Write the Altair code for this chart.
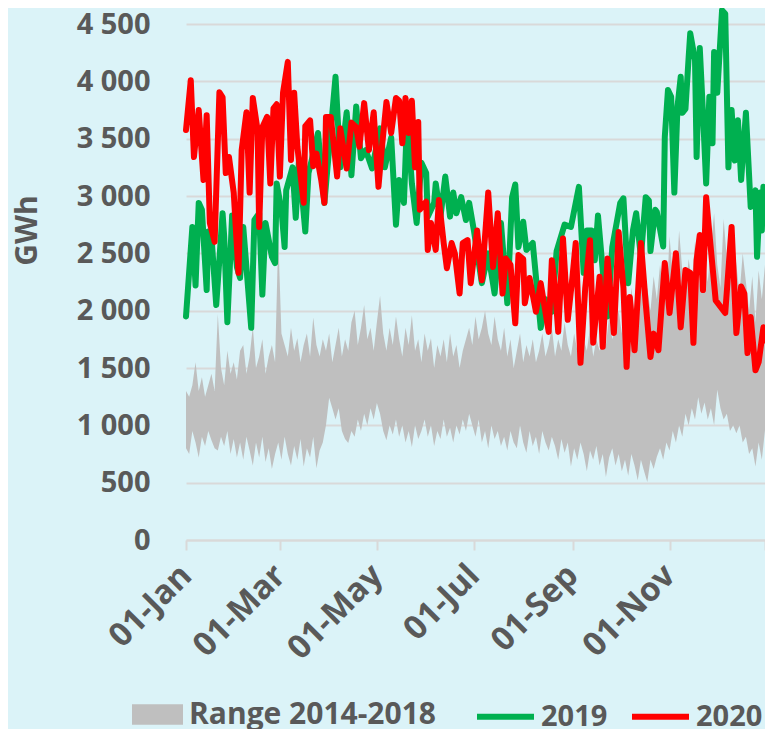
import altair as alt
import pandas as pd

# ---------------- data ----------------
# 2019 daily series (day of year, GWh)
g19_day = [0, 4, 6, 8, 10, 13, 14, 16, 19, 23, 24, 26, 29, 32, 34, 36, 41, 43, 46, 48,
           50, 54, 56, 57, 60, 62, 63, 67, 69, 71, 75, 77, 79, 83, 87, 94, 97, 101, 104, 107,
           110, 113, 117, 122, 125, 129, 132, 134, 137, 139, 142, 145, 148, 151, 152, 156, 157, 160, 163, 166,
           168, 170, 173, 176, 178, 181, 186, 190, 194, 198, 202, 205, 207, 209, 212, 214, 218, 223, 226, 230,
           233, 238, 242, 247, 250, 252, 255, 257, 259, 262, 265, 268, 273, 275, 278, 281, 283, 286, 289, 291,
           292, 295, 296, 300, 301, 303, 305, 307, 309, 311, 312, 314, 316, 317, 320, 321, 323, 325, 327, 329,
           331, 332, 334, 337, 339, 341, 343, 345, 347, 349, 352, 355, 358, 359, 361, 362, 363, 364]
g19_val = [1950, 2730, 2220, 2940, 2880, 2180, 2690, 2650, 2050, 2850, 2650, 1900, 2830, 2380, 2285, 2730, 1850, 2790, 2850, 2140,
           2765, 2470, 2415, 3110, 2880, 2555, 3050, 3250, 2810, 3310, 2690, 3200, 3310, 3550, 2940, 4040, 3250, 3730, 3180, 3780,
           3330, 3400, 3240, 3590, 3250, 3510, 2750, 3140, 2940, 3690, 3110, 2765, 3290, 3200, 2820, 2940, 3110, 2820, 3170, 2820,
           3030, 2850, 2990, 2790, 2940, 2700, 2240, 2500, 2150, 2765, 2065, 2990, 3100, 2555, 2775, 2530, 2590, 1850, 2100, 1990,
           2520, 2750, 2730, 3080, 2330, 2700, 2700, 2440, 2830, 2350, 1950, 2555, 2940, 2980, 2240, 2700, 2850, 2470, 2990, 2960,
           2520, 2880, 2860, 2560, 3515, 3925, 3865, 3030, 3780, 4040, 3725, 3760, 4210, 4420, 4185, 3340, 4290, 3725, 3110, 3865,
           3460, 4255, 3900, 4620, 4590, 3250, 3750, 3310, 3660, 3140, 3725, 2905, 3050, 2470, 3030, 2700, 3080, 2990]

# 2020 daily series (day of year, GWh)
r20_day = [0, 3, 5, 8, 11, 13, 15, 18, 21, 23, 25, 27, 30, 33, 35, 38, 40, 42, 45, 46,
           48, 51, 53, 55, 57, 59, 61, 64, 66, 68, 70, 74, 75, 78, 80, 82, 85, 87, 88, 91,
           95, 97, 101, 104, 107, 109, 112, 115, 118, 121, 123, 126, 129, 132, 134, 136, 138, 140, 142, 144,
           146, 147, 151, 152, 154, 157, 159, 162, 164, 167, 169, 172, 174, 177, 179, 183, 186, 190, 193, 196,
           199, 201, 204, 207, 209, 212, 213, 216, 220, 223, 228, 230, 232, 234, 237, 240, 243, 245, 248, 251,
           254, 256, 260, 262, 265, 269, 272, 275, 277, 279, 282, 286, 289, 292, 294, 297, 301, 304, 308, 311,
           314, 317, 319, 321, 323, 325, 327, 329, 333, 339, 343, 346, 349, 351, 353, 355, 358, 360, 363, 364]
r20_val = [3575, 4010, 3340, 3750, 3140, 3705, 2765, 2600, 3905, 3860, 3200, 3340, 3030, 2330, 3400, 3730, 3030, 3855, 3575, 2730,
           3600, 3690, 3110, 3765, 3800, 3170, 3900, 4170, 3315, 3900, 3430, 2940, 3610, 3660, 3260, 3370, 3140, 2940, 3690, 3690,
           3170, 3590, 3240, 3640, 3600, 3430, 3810, 3400, 3730, 3080, 3400, 3820, 3550, 3855, 3830, 3460, 3855, 3550, 3830, 3250,
           3645, 2880, 2950, 2530, 2765, 2530, 2965, 2590, 2370, 2590, 2500, 2150, 2590, 2615, 2240, 2700, 2265, 3030, 2380, 2850,
           2150, 2455, 2400, 1890, 2485, 2450, 2065, 2285, 1990, 2240, 1815, 2440, 2200, 1815, 2630, 1920, 2300, 2590, 1545, 2200,
           2615, 1720, 2295, 1685, 2455, 1805, 2685, 2200, 1510, 2120, 1655, 2590, 2065, 1595, 1800, 1655, 2415, 1980, 2500, 1855,
           2355, 2330, 1720, 2440, 2660, 2180, 2990, 2680, 2090, 1980, 2730, 1805, 2210, 2150, 1630, 1945, 1480, 1550, 1855, 1740]

# Range 2014-2018, sampled every second day (day of year, min and max GWh)
rng_day = list(range(0, 365, 2))
rng_hi = [1300, 1250, 1350, 1550, 1300, 1420, 1250, 1350, 1450, 1300,
          1970, 1500, 1350, 1650, 1450, 1550, 1400, 1650, 1700, 1450,
          1600, 1860, 1500, 1600, 1750, 1450, 1600, 1700, 1550, 2640,
          1800, 1700, 1600, 1850, 1650, 1760, 1550, 1700, 1800, 1600,
          1940, 1700, 1600, 1750, 1650, 1800, 1550, 1700, 1850, 1600,
          1750, 1650, 1900, 2000, 1700, 1850, 2050, 1750, 1850, 1650,
          1900, 2130, 1800, 1650, 1850, 1700, 1950, 1750, 1600, 1850,
          1700, 1960, 1650, 1750, 1550, 1800, 1650, 1760, 1500, 1700,
          1600, 1750, 1550, 1800, 1600, 1700, 1500, 1650, 1750, 1850,
          1700, 1950, 1750, 1850, 2000, 1800, 1700, 1950, 1750, 1650,
          1850, 1600, 1750, 1500, 1650, 1800, 1550, 1700, 1600, 1750,
          1550, 1650, 1800, 1600, 1700, 1850, 1600, 1750, 1650, 1900,
          1700, 1600, 1800, 1650, 1550, 1750, 1650, 1850, 1600, 1750,
          1650, 1800, 1700, 1950, 1750, 1850, 2000, 1800, 2100, 1900,
          2200, 1950, 2150, 2400, 2050, 2200, 2000, 2300, 2100, 2400,
          2200, 2050, 2650, 2300, 2200, 2700, 2350, 2150, 2450, 2250,
          2600, 2300, 2150, 2450, 2250, 2550, 2850, 2400, 2200, 2800,
          2450, 2250, 2650, 2400, 2150, 2500, 2250, 2000, 2300, 1900,
          2350, 2100, 2400]
rng_lo = [800, 750, 950, 850, 720, 900, 820, 950, 870, 800,
          780, 900, 820, 950, 750, 880, 720, 850, 700, 900,
          780, 650, 850, 720, 900, 680, 800, 620, 750, 850,
          700, 900, 750, 650, 820, 700, 880, 640, 800, 720,
          900, 625, 780, 850, 1000, 1240, 1150, 1050, 1150, 950,
          880, 845, 950, 900, 1050, 950, 1100, 1000, 1150, 1050,
          1195, 1100, 950, 870, 1000, 920, 1050, 900, 1000, 850,
          950, 810, 1000, 880, 950, 1050, 900, 1000, 820, 950,
          880, 1050, 900, 980, 850, 1000, 920, 1050, 950, 1100,
          1000, 900, 1050, 850, 950, 800, 1000, 880, 950, 820,
          900, 780, 950, 850, 800, 1000, 850, 760, 950, 820,
          900, 750, 950, 850, 780, 900, 820, 700, 880, 760,
          850, 640, 800, 700, 850, 750, 600, 780, 700, 820,
          650, 750, 550, 720, 800, 650, 750, 600, 700, 560,
          750, 650, 520, 700, 600, 505, 700, 620, 725, 800,
          700, 850, 780, 950, 850, 1000, 900, 1100, 1000, 1150,
          1050, 1245, 1100, 1200, 1050, 1150, 1000, 1310, 1150, 1050,
          1100, 950, 1000, 930, 1000, 850, 900, 750, 800, 640,
          850, 700, 960]

y_ticks = [0, 500, 1000, 1500, 2000, 2500, 3000, 3500, 4000, 4500]
series_names = ["Range 2014-2018", "2019", "2020"]

# ---------------- tables ----------------
BASE = pd.Timestamp("2019-01-01")


def to_dates(days):
    return [(BASE + pd.Timedelta(days=int(d))).strftime("%Y-%m-%dT00:00:00") for d in days]


lines = pd.DataFrame({
    "date": to_dates(g19_day) + to_dates(r20_day),
    "value": g19_val + r20_val,
    "series": [series_names[1]] * len(g19_day) + [series_names[2]] * len(r20_day),
})
band = pd.DataFrame({
    "date": to_dates(rng_day),
    "lo": rng_lo,
    "hi": rng_hi,
    "series": [series_names[0]] * len(rng_day),
})

FONT = "Open Sans"
TXT = "#595959"
GRID = "#d9d9d9"

x_enc = alt.X(
    "date:T",
    scale=alt.Scale(domain=[alt.DateTime(year=2019, month=1, date=1),
                            alt.DateTime(year=2019, month=12, date=31)]),
    axis=alt.Axis(
        values=[alt.DateTime(year=2019, month=m, date=1) for m in (1, 3, 5, 7, 9, 11)]
        + [alt.DateTime(year=2019, month=12, date=31)],
        format="%d-%b",
        labelExpr="month(datum.value) == 11 ? '' : datum.label",
        grid=False,
        domainColor=GRID, domainWidth=2,
        tickColor=GRID, tickWidth=2, tickSize=10,
        labelAngle=315, labelAlign="right", labelBaseline="middle",
        labelPadding=20, labelFont=FONT, labelFontSize=33, labelFontWeight="bold",
        labelColor=TXT, labelOverlap=False, labelFlush=False,
        title=None,
    ),
)

y_scale = alt.Scale(domain=[0, 4500], nice=False)
y_axis = alt.Axis(
    values=y_ticks,
    labelExpr="replace(format(datum.value, ','), ',', ' ')",
    grid=True, gridColor=GRID, gridWidth=2,
    domain=False, ticks=False,
    labelPadding=36, labelFont=FONT, labelFontSize=29, labelFontWeight="bold",
    labelColor=TXT,
    title="GWh", titleFont=FONT, titleFontSize=30, titleFontWeight="bold",
    titleColor=TXT, titleAngle=270, titleX=-159, titleY=206,
    titleAlign="center", titleBaseline="middle",
)

area = alt.Chart(band).mark_area(opacity=1, interpolate="linear").encode(
    x=x_enc,
    y=alt.Y("lo:Q", scale=y_scale, axis=y_axis),
    y2="hi:Q",
    fill=alt.Fill(
        "series:N",
        scale=alt.Scale(domain=[series_names[0]], range=["#bfbfbf"]),
        legend=alt.Legend(
            orient="none", legendX=-54, legendY=665, title=None,
            symbolType="M-1,-0.4H1V0.4H-1Z", symbolSize=2601, symbolStrokeWidth=0,
            symbolOpacity=1,
            labelFont=FONT, labelFontSize=30, labelFontWeight="bold", labelColor=TXT,
            labelLimit=400, labelOffset=6,
        ),
    ),
)

line = alt.Chart(lines).mark_line(strokeWidth=6, strokeJoin="round", strokeCap="round").encode(
    x=x_enc,
    y=alt.Y("value:Q", scale=y_scale, axis=y_axis),
    stroke=alt.Stroke(
        "series:N",
        scale=alt.Scale(domain=series_names[1:], range=["#00b050", "#ff0000"]),
        legend=alt.Legend(
            orient="none", legendX=288, legendY=661, title=None, direction="horizontal",
            symbolType="stroke", symbolSize=3249, symbolStrokeWidth=6,
            labelFont=FONT, labelFontSize=29, labelFontWeight="bold", labelColor=TXT,
            labelLimit=400, labelOffset=4, columnPadding=12,
        ),
    ),
)

chart = (
    alt.layer(area, line)
    .properties(
        width=579, height=516,
        autosize=alt.AutoSizeParams(type="none"),
        padding={"left": 178, "top": 16, "right": 0, "bottom": 189},
        background="#dbf3f8",
    )
    .configure_view(stroke=None)
)

chart.save("out.html", embed_options={"renderer": "svg", "actions": False})
